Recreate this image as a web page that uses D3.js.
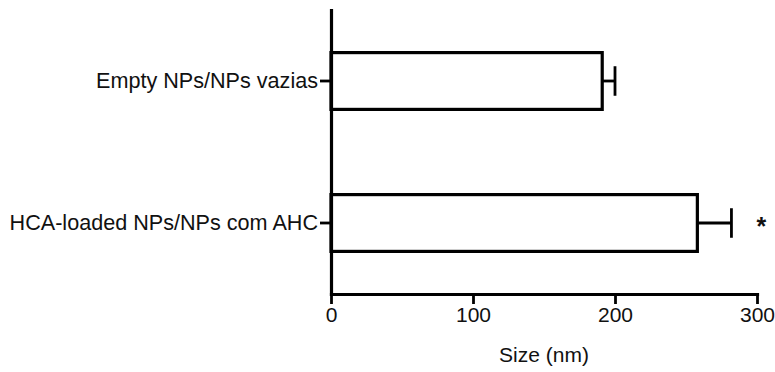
<!DOCTYPE html>
<html>
<head>
<meta charset="utf-8">
<script src="https://cdn.jsdelivr.net/npm/d3@7"></script>
<style>
  body { margin: 0; background: #fff; }
  svg text { font-family: "Liberation Sans", Arial, Helvetica, sans-serif; fill: #111; }
</style>
</head>
<body>
<div id="app"></div>
<script>
// values
const categories = ['Empty NPs/NPs vazias', 'HCA-loaded NPs/NPs com AHC'];
const means = [191, 258];
const errors = [9, 24];
const marks = ['', '*'];
const xTicks = [0, 100, 200, 300];
const xLabel = 'Size (nm)';

const width = 775;
const height = 372;
const margin = { top: 10, right: 18, bottom: 78, left: 331 };

const data = categories.map((c, i) => ({ cat: c, mean: means[i], err: errors[i], mark: marks[i] }));

const svg = d3.select('#app')
  .append('svg')
  .attr('width', width)
  .attr('height', height);

const x = d3.scaleLinear()
  .domain([0, 300])
  .range([margin.left, width - margin.right]);

const y = d3.scaleBand()
  .domain(categories)
  .range([margin.top, height - margin.bottom])
  .paddingInner(0.6)
  .paddingOuter(0.3);

// bars
svg.selectAll('rect.bar')
  .data(data)
  .enter()
  .append('rect')
  .attr('class', 'bar')
  .attr('x', x(0))
  .attr('y', d => y(d.cat))
  .attr('width', d => x(d.mean) - x(0))
  .attr('height', y.bandwidth())
  .attr('fill', '#fff')
  .attr('stroke', '#000')
  .attr('stroke-width', 3.2);

// error bars (upper side only)
const capH = y.bandwidth() * 0.52;
const eb = svg.selectAll('g.err')
  .data(data)
  .enter()
  .append('g')
  .attr('class', 'err')
  .attr('stroke', '#000')
  .attr('stroke-width', 2.8);

eb.append('line')
  .attr('x1', d => x(d.mean))
  .attr('x2', d => x(d.mean + d.err))
  .attr('y1', d => y(d.cat) + y.bandwidth() / 2)
  .attr('y2', d => y(d.cat) + y.bandwidth() / 2);

eb.append('line')
  .attr('x1', d => x(d.mean + d.err))
  .attr('x2', d => x(d.mean + d.err))
  .attr('y1', d => y(d.cat) + y.bandwidth() / 2 - capH / 2)
  .attr('y2', d => y(d.cat) + y.bandwidth() / 2 + capH / 2);

// significance marks
svg.selectAll('text.mark')
  .data(data.filter(d => d.mark))
  .enter()
  .append('text')
  .attr('class', 'mark')
  .attr('x', x(303))
  .attr('y', d => y(d.cat) + y.bandwidth() / 2 + 12)
  .attr('text-anchor', 'middle')
  .style('font-size', '25px')
  .style('font-weight', 'bold')
  .text(d => d.mark);

// axes
const xAxis = d3.axisBottom(x).tickValues(xTicks).tickSize(10).tickSizeOuter(0).tickPadding(3);
const yAxis = d3.axisLeft(y).tickSize(11).tickSizeOuter(0).tickPadding(2);

const gx = svg.append('g')
  .attr('transform', `translate(0, ${height - margin.bottom})`)
  .call(xAxis);

const gy = svg.append('g')
  .attr('transform', `translate(${margin.left}, 0)`)
  .call(yAxis);

[gx, gy].forEach(g => {
  g.select('.domain').attr('stroke', '#000').attr('stroke-width', 3.2).attr('stroke-linecap', 'square');
  g.selectAll('.tick line').attr('stroke', '#000').attr('stroke-width', 2.8);
  g.selectAll('.tick text').attr('fill', '#111').style('font-size', '21px')
    .style('font-family', '"Liberation Sans", Arial, Helvetica, sans-serif');
});
gy.selectAll('.tick text').style('font-size', '21.6px');

// axis title
svg.append('text')
  .attr('x', (x(0) + x(300)) / 2)
  .attr('y', height - 10)
  .attr('text-anchor', 'middle')
  .style('font-size', '21px')
  .text(xLabel);
</script>
</body>
</html>
